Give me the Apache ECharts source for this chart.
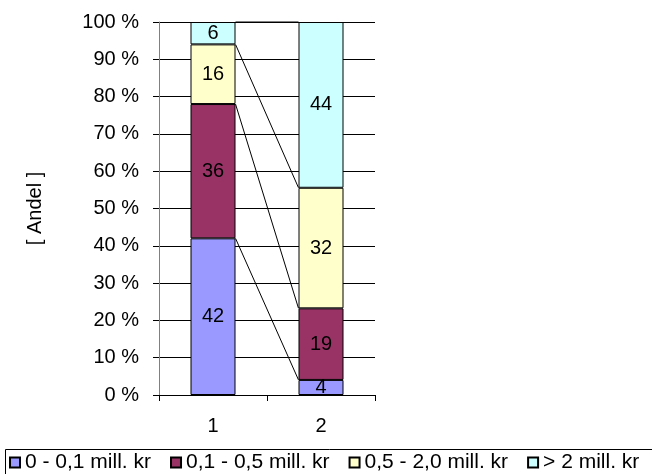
<!DOCTYPE html>
<html>
<head>
<meta charset="utf-8">
<script src="https://cdn.jsdelivr.net/npm/echarts@6/dist/echarts.min.js"></script>
<style>
  html, body { margin: 0; padding: 0; background: #fff; }
  #chart { width: 652px; height: 474px; }
</style>
</head>
<body>
<div id="chart"></div>
<script>
// Categories on the x axis
const categories = ['1', '2'];

// Size classes (legend names)
const seriesNames = ['0 - 0,1 mill. kr', '0,1 - 0,5 mill. kr', '0,5 - 2,0 mill. kr', '> 2 mill. kr'];

// Share per size class, in percent, for each category
const band1 = [42, 4];   // 0 - 0,1 mill. kr
const band2 = [36, 19];  // 0,1 - 0,5 mill. kr
const band3 = [16, 32];  // 0,5 - 2,0 mill. kr
const band4 = [6, 44];   // > 2 mill. kr

// Y axis ticks
const yTicks = [0, 10, 20, 30, 40, 50, 60, 70, 80, 90, 100];

const colors = ['#9999FF', '#993366', '#FFFFCC', '#CCFFFF'];
const FONT = 'Liberation Sans';
const FS = 20;
const BAR_W = 45;

const bands = [band1, band2, band3, band4];

// Each column is scaled to fill 100 %
const totals = categories.map((_, j) => bands.reduce((s, b) => s + b[j], 0));
const scaled = bands.map(b => b.map((v, j) => v / totals[j] * 100));

// Cumulative tops of each band, used for the connector lines
const cumTops = bands.map((_, i) =>
  categories.map((_, j) => scaled.slice(0, i + 1).reduce((s, b) => s + b[j], 0))
);

const barSeries = bands.map((b, i) => ({
  name: seriesNames[i],
  type: 'bar',
  stack: 'total',
  barWidth: BAR_W,
  data: scaled[i].map((v, j) => ({ value: v, raw: b[j] })),
  itemStyle: { color: colors[i], borderColor: '#000', borderWidth: 1 },
  label: {
    show: true,
    position: 'inside',
    color: '#000',
    fontFamily: FONT,
    fontSize: FS,
    formatter: p => String(p.data.raw)
  },
  emphasis: { disabled: true }
}));

// Series lines joining the band boundaries of the two columns
const connector = {
  type: 'custom',
  name: 'connectors',
  silent: true,
  z: 3,
  data: cumTops.map(c => [0, c[0], c[1]]),
  encode: { x: 0, y: 1 },
  renderItem: (params, api) => {
    const a = api.coord([0, api.value(1)]);
    const b = api.coord([1, api.value(2)]);
    return {
      type: 'line',
      shape: { x1: a[0] + BAR_W / 2, y1: a[1], x2: b[0] - BAR_W / 2, y2: b[1] },
      style: { stroke: '#000', lineWidth: 1 }
    };
  }
};

const chart = echarts.init(document.getElementById('chart'), null, { renderer: 'canvas' });
chart.setOption({
  animation: false,
  backgroundColor: '#fff',
  textStyle: { fontFamily: FONT, color: '#000' },
  grid: { left: 159, right: 277, top: 22, bottom: 79, containLabel: false },
  // Frame around the legend, running off the lower right corner
  graphic: [{
    type: 'rect',
    silent: true,
    shape: { x: 5.5, y: 449.5, width: 700, height: 60 },
    style: { fill: 'none', stroke: '#000', lineWidth: 1 }
  }],
  legend: {
    data: seriesNames,
    left: 9,
    top: 452,
    orient: 'horizontal',
    padding: 0,
    itemWidth: 10,
    itemHeight: 10,
    itemGap: 19,
    icon: 'rect',
    textStyle: { fontFamily: FONT, fontSize: 21, color: '#000' },
    selectedMode: false
  },
  xAxis: {
    type: 'category',
    data: categories,
    axisLine: { lineStyle: { color: '#000' } },
    axisTick: { show: true, length: 6, lineStyle: { color: '#000' } },
    axisLabel: { fontFamily: FONT, fontSize: FS, color: '#000', margin: 21 }
  },
  yAxis: {
    type: 'value',
    min: 0,
    max: 100,
    interval: 10,
    name: '[ Andel ]',
    nameLocation: 'middle',
    nameGap: 114,
    nameRotate: 90,
    nameTextStyle: { fontFamily: FONT, fontSize: FS, color: '#000' },
    axisLine: { show: true, lineStyle: { color: '#808080' } },
    axisTick: { show: true, length: 6, lineStyle: { color: '#000' } },
    axisLabel: {
      fontFamily: FONT, fontSize: FS, color: '#000', margin: 20,
      customValues: yTicks,
      formatter: v => v + ' %'
    },
    splitLine: { show: true, lineStyle: { color: '#000', width: 1 } }
  },
  series: [...barSeries, connector]
});
</script>
</body>
</html>
